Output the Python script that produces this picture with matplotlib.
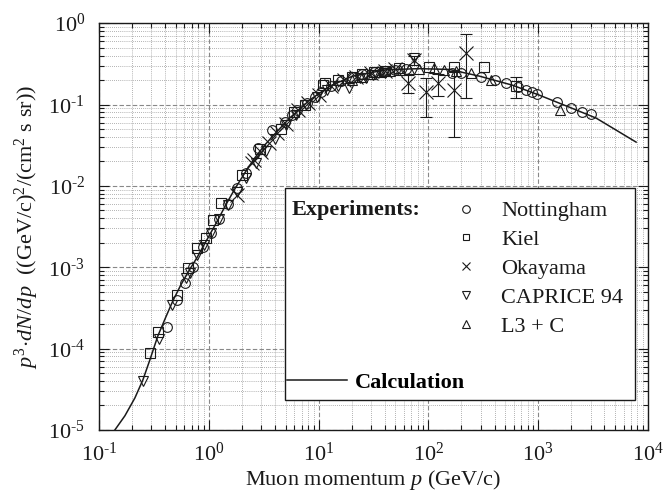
import numpy as np
import matplotlib
matplotlib.use('Agg')
import matplotlib.pyplot as plt
from matplotlib.lines import Line2D
from matplotlib.patches import Rectangle
from matplotlib.ticker import LogLocator, FuncFormatter, NullFormatter

plt.rcParams['font.family'] = ['Liberation Serif', 'DejaVu Serif']
plt.rcParams['mathtext.fontset'] = 'custom'
plt.rcParams['mathtext.rm'] = 'Liberation Serif'
plt.rcParams['mathtext.it'] = 'Liberation Serif:italic'
plt.rcParams['mathtext.bf'] = 'Liberation Serif:bold'

# calculation (solid line)
calc_p = [0.1398, 0.1723, 0.2125, 0.2512, 0.2908, 0.3439, 0.4065, 0.4709, 0.5564, 0.658,
          0.778, 0.959, 1.182, 1.427, 1.723, 2.125, 2.619, 3.229, 3.981, 5.45, 8.28, 12.6,
          20.4, 41.5, 82.8, 155, 291, 581, 1021, 1914, 3365, 7780]
calc_y = [1.0e-5, 1.49e-5, 2.47e-5, 4.11e-5, 7.24e-5, 1.43e-4, 2.44e-4, 3.85e-4, 6.04e-4, 8.98e-4,
          1.30e-3, 2.16e-3, 3.59e-3, 5.81e-3, 9.13e-3, 0.01436, 0.02197, 0.0317, 0.0433, 0.0681,
          0.1133, 0.168, 0.2233, 0.268, 0.276, 0.270, 0.2233, 0.173, 0.1305, 0.0929, 0.0681, 0.0345]

# experiments
not_p = [0.415, 0.51, 0.603, 0.716, 0.88, 1.05, 1.25, 1.5, 1.8, 2.2, 2.78, 3.8, 4.9, 5.7, 6.4,
         7.8, 9.2, 10.6, 13, 16, 20, 25, 32, 40, 50, 63, 163, 200, 302, 400, 513, 650, 776, 870,
         980, 1486, 1990, 2510, 3020]
not_y = [1.84e-4, 3.9e-4, 6.4e-4, 1.0e-3, 1.75e-3, 2.6e-3, 3.9e-3, 6.0e-3, 9.5e-3, 0.0145,
         0.0291, 0.048, 0.0608, 0.074, 0.085, 0.104, 0.123, 0.142, 0.17, 0.195, 0.215, 0.235,
         0.25, 0.26, 0.265, 0.27, 0.243, 0.243, 0.217, 0.2, 0.183, 0.165, 0.15, 0.142, 0.134,
         0.107, 0.090, 0.081, 0.076]

kiel_p = [0.291, 0.344, 0.51, 0.646, 0.78, 0.94, 1.09, 1.3, 2.0, 2.9, 4.5, 6.0, 7.5, 10.9, 11.4,
          14.9, 20, 25, 32, 40, 54, 102, 172, 324, 630]
kiel_y = [8.9e-5, 1.6e-4, 4.6e-4, 9.8e-4, 1.7e-3, 2.3e-3, 3.8e-3, 6.1e-3, 0.0135, 0.0285, 0.05,
          0.08, 0.1, 0.173, 0.183, 0.2, 0.22, 0.235, 0.25, 0.26, 0.28, 0.288, 0.288, 0.288, 0.168]
kiel_err = [0] * 24 + [0.047]

oka_p = [1.8, 2.46, 2.6, 3.0, 3.5, 4.2, 5.0, 6.5, 8.0, 10, 13, 17, 22, 30, 40, 50, 65, 74, 95,
         121, 172, 221]
oka_y = [7.7e-3, 0.019, 0.021, 0.026, 0.034, 0.045, 0.058, 0.085, 0.105, 0.13, 0.17, 0.2, 0.22,
         0.245, 0.26, 0.27, 0.183, 0.35, 0.142, 0.183, 0.15, 0.43]
oka_err = [0] * 16 + [0.045, 0.04, 0.072, 0.056, 0.11, 0.31]

cap_p = [0.25, 0.35, 0.46, 0.62, 0.68, 0.78, 0.9, 1.05, 1.25, 1.5, 1.8, 2.2, 2.7, 3.3, 4.0, 5.0,
         6.2, 7.7, 9.6, 12, 15, 19, 24, 27, 31, 40, 74]
cap_y = [4.0e-5, 1.3e-4, 3.4e-4, 7.3e-4, 8.5e-4, 1.4e-3, 1.9e-3, 2.6e-3, 3.9e-3, 5.8e-3, 8.3e-3,
         0.0125, 0.019, 0.027, 0.038, 0.056, 0.075, 0.098, 0.122, 0.15, 0.17, 0.159, 0.21, 0.21,
         0.23, 0.245, 0.37]

l3_p = [20, 25, 30, 37, 45, 55, 67, 82, 113, 140, 180, 246, 372, 1590]
l3_y = [0.2, 0.22, 0.24, 0.25, 0.26, 0.265, 0.27, 0.27, 0.28, 0.265, 0.255, 0.243, 0.2, 0.085]


def pow10(v, pos):
    e = int(round(np.log10(v)))
    return r'$10^{\mathrm{%s}}$' % str(e).replace('-', '\u2010')


def main():
    fig = plt.figure(figsize=(6.64, 4.93), dpi=100)
    ax = fig.add_axes([0.149, 0.128, 0.827, 0.825])
    ax.set_xscale('log')
    ax.set_yscale('log')
    ax.set_xlim(0.1, 1e4)
    ax.set_ylim(1e-5, 1)

    ax.grid(which='major', ls=(0, (4, 2)), color='#888888', lw=0.8)
    ax.grid(which='minor', ls=(0, (1, 1.5)), color='#999999', lw=0.6)
    ax.set_axisbelow(True)

    ink = '#1a1a1a'
    ax.plot(calc_p, calc_y, color=ink, lw=1.1, zorder=3)

    mk = dict(ls='none', mfc='none', mec=ink, mew=0.8, zorder=4)
    ax.plot(not_p, not_y, marker='o', ms=7, **mk)
    ax.plot(kiel_p, kiel_y, marker='s', ms=6.5, **mk)
    ax.plot(oka_p, oka_y, marker='x', ms=10, **mk)
    ax.plot(cap_p, cap_y, marker='v', ms=7.5, **mk)
    ax.plot(l3_p, l3_y, marker='^', ms=7.5, **mk)

    # error bars only where given
    for px, py, pe in [(kiel_p, kiel_y, kiel_err), (oka_p, oka_y, oka_err)]:
        px, py, pe = np.array(px), np.array(py), np.array(pe)
        m = pe > 0
        ax.errorbar(px[m], py[m], yerr=pe[m], fmt='none', ecolor=ink, elinewidth=0.8,
                    capsize=4, capthick=0.8, zorder=4)

    ax.xaxis.set_major_locator(LogLocator(base=10, numticks=10))
    ax.yaxis.set_major_locator(LogLocator(base=10, numticks=10))
    ax.xaxis.set_minor_locator(LogLocator(base=10, subs=np.arange(2, 10), numticks=20))
    ax.yaxis.set_minor_locator(LogLocator(base=10, subs=np.arange(2, 10), numticks=20))
    ax.xaxis.set_major_formatter(FuncFormatter(pow10))
    ax.yaxis.set_major_formatter(FuncFormatter(pow10))
    ax.xaxis.set_minor_formatter(NullFormatter())
    ax.yaxis.set_minor_formatter(NullFormatter())
    ax.tick_params(which='both', direction='in', top=True, right=True, width=0.8, colors=ink)
    ax.tick_params(which='major', length=7, labelsize=16)
    ax.tick_params(axis='y', which='major', pad=10)
    ax.tick_params(axis='x', which='major', pad=9)
    ax.tick_params(which='minor', length=3.5)
    for s in ax.spines.values():
        s.set_linewidth(1.0)
        s.set_color(ink)

    ax.set_xlabel(r'Muon momentum $p$ (GeV/c)', fontsize=16, labelpad=2, color=ink)
    ax.set_ylabel(r'$p^{3}\!\cdot\! dN/dp$  ((GeV/c)$^{2}$/(cm$^{2}$ s sr))', fontsize=16,
                  labelpad=5, color=ink)

    # legend box
    ax.add_patch(Rectangle((0.339, 0.074), 0.637, 0.521, transform=ax.transAxes,
                           facecolor='white', edgecolor=ink, lw=1.0, zorder=6))
    ax.text(0.3515, 0.5405, 'Experiments:', transform=ax.transAxes, fontsize=16,
            fontweight='bold', va='center', ha='left', color=ink, zorder=7)

    names = ['Nottingham', 'Kiel', 'Okayama', 'CAPRICE 94', 'L3 + C']
    marks = ['o', 's', 'x', 'v', '^']
    sizes = [5.5, 5, 5.5, 6, 6]
    handles = [Line2D([], [], ls='none', marker=m, ms=s, mfc='none', mec=ink, mew=0.8)
               for m, s in zip(marks, sizes)]
    leg = ax.legend(handles, names, loc='upper left', bbox_to_anchor=(0.648, 0.563),
                    frameon=False, fontsize=16, handlelength=1.0, handletextpad=1.1,
                    labelspacing=0.37, borderpad=0, borderaxespad=0)
    leg.set_zorder(7)
    for t in leg.get_texts():
        t.set_color(ink)
    ax.add_artist(leg)

    leg2 = ax.legend([Line2D([], [], color=ink, lw=1.1)], ['Calculation'], loc='center left',
                     bbox_to_anchor=(0.3424, 0.1155), frameon=False,
                     prop={'size': 16, 'weight': 'bold'}, handlelength=2.7,
                     handletextpad=0.35, borderpad=0, borderaxespad=0)
    leg2.set_zorder(7)

    fig.savefig('out.png', dpi=100)


if __name__ == "__main__":
    main()
